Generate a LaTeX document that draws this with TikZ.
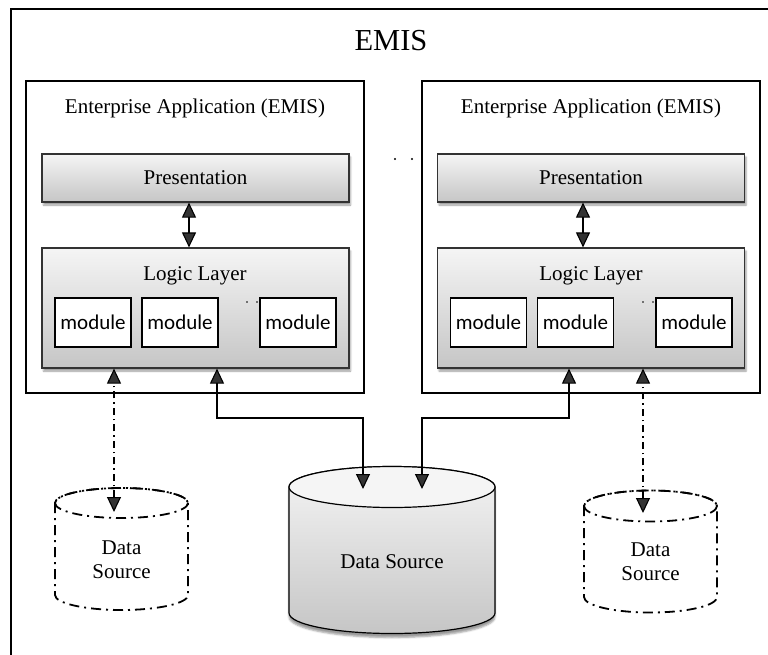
\documentclass[tikz,border=0pt]{standalone}
\usepackage{fontspec}
\setmainfont{Liberation Serif}
\newfontfamily\modfont{Carlito}
\usetikzlibrary{arrows.meta,shadows.blur,positioning}

\tikzset{
    tri/.tip={Triangle[length=15pt,width=14pt]},
    biarrow/.style={tri-tri, line width=1.1pt},
    dotarrow/.style={biarrow, dash pattern=on 7pt off 4pt on 1.5pt off 4pt},
}

\begin{document}
\begin{tikzpicture}[x=1pt,y=-1pt,
        frame/.style={line width=1.8pt},
        appbox/.style={draw, line width=1.6pt, minimum width=338pt, minimum height=312pt, inner sep=0pt},
        layerbox/.style={draw=black!80, line width=1.2pt, top color=gray!8, bottom color=gray!45, minimum width=307pt, inner sep=0pt,
            blur shadow={shadow xshift=1.5pt, shadow yshift=-3pt, shadow opacity=40}},
        modbox/.style={draw, fill=white, line width=1.3pt, minimum width=76pt, minimum height=49pt, inner sep=0pt,
            font=\modfont\fontsize{21}{25}\selectfont},
        txt/.style={font=\fontsize{21}{24}\selectfont, inner sep=0pt},
        cylbody/.style={line width=1.2pt, top color=gray!8, bottom color=gray!45,
            blur shadow={shadow xshift=0pt, shadow yshift=-4pt, shadow opacity=40}},
        dashcyl/.style={line width=1.8pt, dash pattern=on 10pt off 5pt on 2pt off 5pt},
    ]
    \useasboundingbox (0,0) rectangle (768,654);
    \clip (0,0) rectangle (768,654);

    % outer frame (runs off the page on the right and at the bottom)
    \draw[frame] (11,680) -- (11,9) -- (790,9);
    \node[txt, font=\fontsize{30.5}{36}\selectfont, anchor=base] (emis) at (391,50) {EMIS};

    % left application
    \node[appbox] (appL) at (195,237) {};
    \node[txt, anchor=base] (titleL) at (195,113) {Enterprise Application (EMIS)};
    \node[layerbox, minimum height=48pt, txt] (presL) at (195.5,178) {Presentation};
    \node[layerbox, minimum height=120pt] (logicL) at (195.5,308) {};
    \node[txt, anchor=base] (logicLtxt) at (195,280) {Logic Layer};
    \node[modbox] (modL1) at (93,322.5) {module};
    \node[modbox] (modL2) at (180,322.5) {module};
    \fill (247,302) circle (0.9pt) (257,302) circle (0.9pt);
    \node[modbox] (modL3) at (298,322.5) {module};

    % dots between the applications
    \fill (395,159) circle (1.1pt) (412,159) circle (1.1pt);

    % right application
    \node[appbox] (appR) at (591,237) {};
    \node[txt, anchor=base] (titleR) at (591,113) {Enterprise Application (EMIS)};
    \node[layerbox, minimum height=48pt, txt] (presR) at (591,178) {Presentation};
    \node[layerbox, minimum height=120pt] (logicR) at (591,308) {};
    \node[txt, anchor=base] (logicRtxt) at (591,280) {Logic Layer};
    \node[modbox] (modR1) at (488.5,322.5) {module};
    \node[modbox] (modR2) at (575.5,322.5) {module};
    \fill (643,302) circle (0.9pt) (653,302) circle (0.9pt);
    \node[modbox] (modR3) at (694,322.5) {module};

    % shared data source
    \draw[cylbody] (289,487) -- (289,613) arc[start angle=180, end angle=0, x radius=103, y radius=20.5]
        -- (495,487) arc[start angle=0, end angle=-180, x radius=103, y radius=20.5] -- cycle;
    \draw[line width=1.2pt, fill=gray!8] (392,487) ellipse[x radius=103, y radius=20.5];
    \node[txt] (dsMain) at (392,562) {Data Source};
    \coordinate (dsMainL) at (363,489);
    \coordinate (dsMainR) at (422,489);

    % local data sources
    \draw[dashcyl] (55,503) -- (55,595) arc[start angle=180, end angle=0, x radius=66.5, y radius=15]
        -- (188,503) arc[start angle=0, end angle=-180, x radius=66.5, y radius=15];
    \draw[dashcyl] (121.5,503) ellipse[x radius=66.5, y radius=15];
    \node[txt, align=center] (dsL) at (121.5,560) {Data\\Source};
    \coordinate (dsLtop) at (114,512);

    \draw[dashcyl] (584,506) -- (584,597) arc[start angle=180, end angle=0, x radius=66.5, y radius=15.5]
        -- (717,506) arc[start angle=0, end angle=-180, x radius=66.5, y radius=15.5];
    \draw[dashcyl] (650.5,506) ellipse[x radius=66.5, y radius=15.5];
    \node[txt, align=center] (dsR) at (650.5,562) {Data\\Source};
    \coordinate (dsRtop) at (643,513);

    % connectors
    \draw[biarrow] ([xshift=-6.5pt]presL.south) -- ([xshift=-6.5pt]logicL.north);
    \draw[biarrow] ([xshift=-8pt]presR.south) -- ([xshift=-8pt]logicR.north);
    \draw[dotarrow] (dsLtop) -- (dsLtop |- logicL.south);
    \draw[dotarrow] (dsRtop) -- (dsRtop |- logicR.south);
    \draw[biarrow] (dsMainL) -- ++(0,-71) -| ([xshift=21.5pt]logicL.south);
    \draw[biarrow] (dsMainR) -- ++(0,-71) -| ([xshift=-22pt]logicR.south);
\end{tikzpicture}
\end{document}
